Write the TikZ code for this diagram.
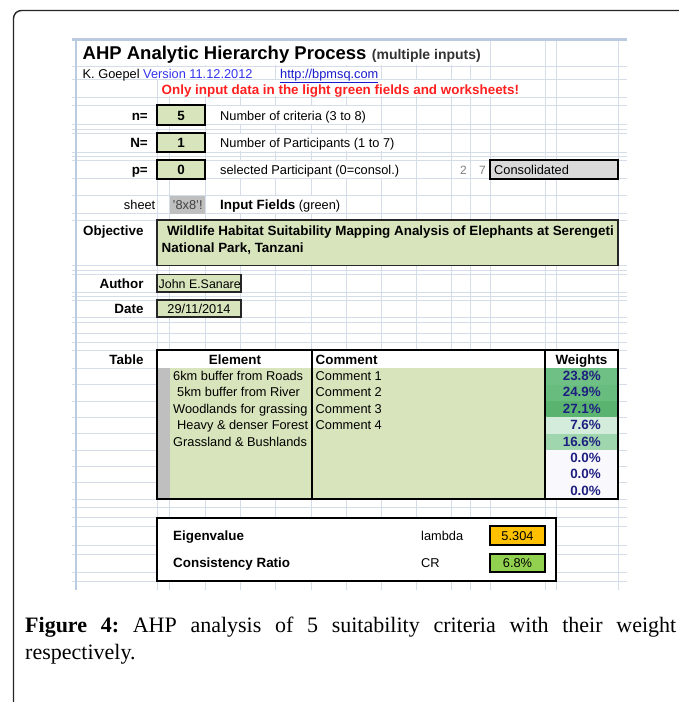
\documentclass[tikz,border=0pt]{standalone}
\usepackage{fontspec}
\setmainfont{Liberation Sans}
\newfontfamily\capfont{Liberation Serif}
\definecolor{gridc}{HTML}{D5DDE9}
\definecolor{headc}{HTML}{BACBE0}
\definecolor{ingreen}{HTML}{D8E4BC}
\definecolor{lgray}{HTML}{D9D9D9}
\definecolor{mgray}{HTML}{BFBFBF}
\definecolor{navy}{HTML}{1F1F80}
\definecolor{vblue}{HTML}{3434EE}
\definecolor{lnk}{HTML}{1A1ACC}
\definecolor{redt}{HTML}{FF1F1F}
\definecolor{gold}{HTML}{FFC000}
\definecolor{crgreen}{HTML}{92D050}
\definecolor{wa}{HTML}{6EC084}
\definecolor{wb}{HTML}{68BC7E}
\definecolor{wc}{HTML}{5AB470}
\definecolor{wd}{HTML}{D3ECDB}
\definecolor{we}{HTML}{A0D6AD}
\definecolor{wz}{HTML}{F9F9FD}
\begin{document}
\frenchspacing
\begin{tikzpicture}[x=1pt,y=-1pt,
  gridline/.style={draw=gridc,line width=0.8pt},
  rt/.style={inner sep=0pt,font=\fontsize{12.8}{15}\selectfont},
  bt/.style={inner sep=0pt,font=\fontsize{13.4}{15}\selectfont\bfseries},
  heavybox/.style={draw=black,line width=2pt},
  thinbox/.style={draw=black!85,line width=1.3pt},
  pct/.style={bt,text=navy,anchor=base east},
  hide/.style={fill=white,draw=none}]
\useasboundingbox (0,0) rectangle (678,702);
\fill[white] (0,0) rectangle (678,702);
% outer frame
\draw[line width=1.4pt,black!85,rounded corners=8pt] (13.5,703) -- (13.5,10.5) -- (679,10.5);
% grid
\foreach \x in {157,169.5,205,240,275,311,346,381,416,451,470,490,545,556,618}
  \draw[gridline] (\x,39.5) -- (\x,589.5);
\foreach \y in {66,79.5,97,105,124.5,129,133,152,156.5,160,178.5,195.5,213.5,220,265.5,270,274.5,292,296.5,300,317,322,333,342.5,350,368.3,384.6,401,417.3,433.7,450,466.3,482.7,499,507.5,517.5,526,545,554,572,581}
  \draw[gridline] (72,\y) -- (627,\y);
\draw[headc,line width=1.6pt] (76,39.5) -- (76,589.5);
\draw[headc,line width=2.2pt] (72,39.5) -- (627,39.5);
% cells over which text runs
\fill[hide] (76.8,40.8) rectangle (489.2,65.2);
\fill[hide] (76.8,66.8) rectangle (274.2,78.7);
\fill[hide] (275.8,66.8) rectangle (380.2,78.7);
\fill[hide] (157.8,80.3) rectangle (544.2,96.2);
\fill[hide] (205.8,105.8) rectangle (380.2,123.7);
\fill[hide] (205.8,133.8) rectangle (415.2,151.2);
\fill[hide] (205.8,160.8) rectangle (415.2,177.7);
\fill[hide] (205.8,196.3) rectangle (345.2,212.7);
% header
\node[inner sep=0pt,anchor=base west,font=\fontsize{18.5}{20}\selectfont\bfseries] (title) at (82.5,59.5) {AHP Analytic Hierarchy Process};
\node[inner sep=0pt,anchor=base west,font=\fontsize{14}{16}\selectfont\bfseries,text=black!80] (multi) at ([xshift=5pt]title.base east) {(multiple inputs)};
\node[rt,anchor=base west] (author0) at (82.5,78) {K. Goepel \textcolor{vblue}{Version 11.12.2012}};
\node[rt,anchor=base west,text=lnk] (link) at (280,78) {\underline{http://bpmsq.com}};
\node[bt,anchor=base west,text=redt] (warn) at (161.5,94.5) {Only input data in the light green fields and worksheets!};
% n, N, p
\draw[heavybox,fill=ingreen] (157,105) rectangle (205,124.5);
\draw[heavybox,fill=ingreen] (157,133) rectangle (205,152);
\draw[heavybox,fill=ingreen] (157,160) rectangle (205,178.5);
\node[bt,anchor=base east] (nl) at (148,120) {n=};
\node[bt,anchor=base] (nv) at (181,120) {5};
\node[rt,anchor=base west] (nt) at (220,120) {Number of criteria (3 to 8)};
\node[bt,anchor=base east] (Nl) at (148,147.5) {N=};
\node[bt,anchor=base] (Nv) at (181,147.5) {1};
\node[rt,anchor=base west] (Nt) at (220,147.5) {Number of Participants (1 to 7)};
\node[bt,anchor=base east] (pl) at (148,174.2) {p=};
\node[bt,anchor=base] (pv) at (181,174.2) {0};
\node[rt,anchor=base west] (pt) at (220,174.2) {selected Participant (0=consol.)};
\node[inner sep=0pt,anchor=base east,font=\fontsize{12}{14}\selectfont,text=black!50] (two) at (467,174.2) {2};
\node[inner sep=0pt,anchor=base east,font=\fontsize{12}{14}\selectfont,text=black!50] (seven) at (486,174.2) {7};
\draw[heavybox,fill=lgray] (490,160) rectangle (618,178.5);
\node[rt,anchor=base west] (cons) at (494,174.2) {Consolidated};
% sheet row
\fill[mgray] (169.5,195.5) rectangle (205,213.5);
\node[rt,anchor=base east] (sheetl) at (155.5,209.3) {sheet};
\node[rt,anchor=base west,text=black!75] (sheetv) at (172.5,209.3) {\char"0027 8x8\char"0027 !};
\node[rt,anchor=base west] (inf) at (220,209.3) {\textbf{\fontsize{13.4}{15}\selectfont Input Fields} (green)};
% objective
\node[bt,anchor=base west] (objl) at (83,235.5) {Objective};
\draw[draw=black!85,line width=1.3pt,fill=ingreen] (157,220) rectangle (618,265.5);
\node[bt,anchor=base west] (obj1) at (167,235.5) {Wildlife Habitat Suitability Mapping Analysis of Elephants at Serengeti};
\node[bt,anchor=base west] (obj2) at (161.5,252.5) {National Park, Tanzani};
% author, date
\node[bt,anchor=base east] (authl) at (143.7,288.3) {Author};
\draw[thinbox,fill=ingreen] (157,274.5) rectangle (241,292);
\node[inner sep=0pt,font=\fontsize{12.4}{15}\selectfont,anchor=base west] (auth) at (158.5,288.3) {John E.Sanare};
\node[bt,anchor=base east] (datel) at (143.7,313.6) {Date};
\draw[thinbox,fill=ingreen] (157,300) rectangle (241,317);
\node[rt,anchor=base] (date) at (199,313.6) {29/11/2014};
% table
\node[bt,anchor=base east] (tabl) at (143.7,364.2) {Table};
\fill[white] (157,350) rectangle (618,368.3);
\fill[ingreen] (157,368.3) rectangle (545,499);
\fill[mgray] (157,368.3) rectangle (169.5,499);
\foreach \c [count=\i from 0] in {wa,wb,wc,wd,we,wz,wz,wz}
  \fill[\c] (545,{368.3+16.34*\i}) rectangle (618,{368.3+16.34*(\i+1)});
\draw[heavybox] (157,350) rectangle (618,499);
\draw[heavybox] (312,350) -- (312,499);
\draw[heavybox] (545,350) -- (545,499);
\node[bt,anchor=base] (hel) at (235,364.2) {Element};
\node[bt,anchor=base west] (hcom) at (315.5,364.2) {Comment};
\node[bt,anchor=base] (hw) at (581.5,364.2) {Weights};
\node[rt,anchor=base west] (e1) at (173,380.6) {6km buffer from Roads};
\node[rt,anchor=base west] (e2) at (177,396.9) {5km buffer from River};
\node[rt,anchor=base west] (e3) at (173,413.3) {Woodlands for grassing};
\node[rt,anchor=base west] (e4) at (177,429.6) {Heavy \& denser Forest};
\node[rt,anchor=base west] (e5) at (173,446.0) {Grassland \& Bushlands};
\node[rt,anchor=base west] (c1) at (315.5,380.6) {Comment 1};
\node[rt,anchor=base west] (c2) at (315.5,396.9) {Comment 2};
\node[rt,anchor=base west] (c3) at (315.5,413.3) {Comment 3};
\node[rt,anchor=base west] (c4) at (315.5,429.6) {Comment 4};
\node[pct] (w1) at (601,380.6) {23.8\%};
\node[pct] (w2) at (601,396.9) {24.9\%};
\node[pct] (w3) at (601,413.3) {27.1\%};
\node[pct] (w4) at (601,429.6) {7.6\%};
\node[pct] (w5) at (601,446.0) {16.6\%};
\node[pct] (w6) at (601,462.3) {0.0\%};
\node[pct] (w7) at (601,478.7) {0.0\%};
\node[pct] (w8) at (601,495.0) {0.0\%};
% result box
\draw[heavybox,fill=white] (157,517.5) rectangle (556,581);
\draw[heavybox,fill=gold] (490,526) rectangle (545,545);
\draw[heavybox,fill=crgreen] (490,554) rectangle (545,572);
\node[bt,anchor=base west] (eig) at (173,540.5) {Eigenvalue};
\node[bt,anchor=base west] (cr) at (173,567.5) {Consistency Ratio};
\node[rt,anchor=base west] (lam) at (421,540.5) {lambda};
\node[rt,anchor=base west] (crl) at (421,567.5) {CR};
\node[rt,anchor=base] (lamv) at (517.5,540.5) {5.304};
\node[rt,anchor=base] (crv) at (517.5,567.5) {6.8\%};
% caption
\node[inner sep=0pt,anchor=base west,font=\capfont\fontsize{22}{27}\selectfont] (cap1) at (25,632) {\makebox[651pt][s]{\textbf{Figure 4:} AHP analysis of 5 suitability criteria with their weight}};
\node[inner sep=0pt,anchor=base west,font=\capfont\fontsize{22}{27}\selectfont] (cap2) at (25,659) {respectively.};
\end{tikzpicture}
\end{document}
